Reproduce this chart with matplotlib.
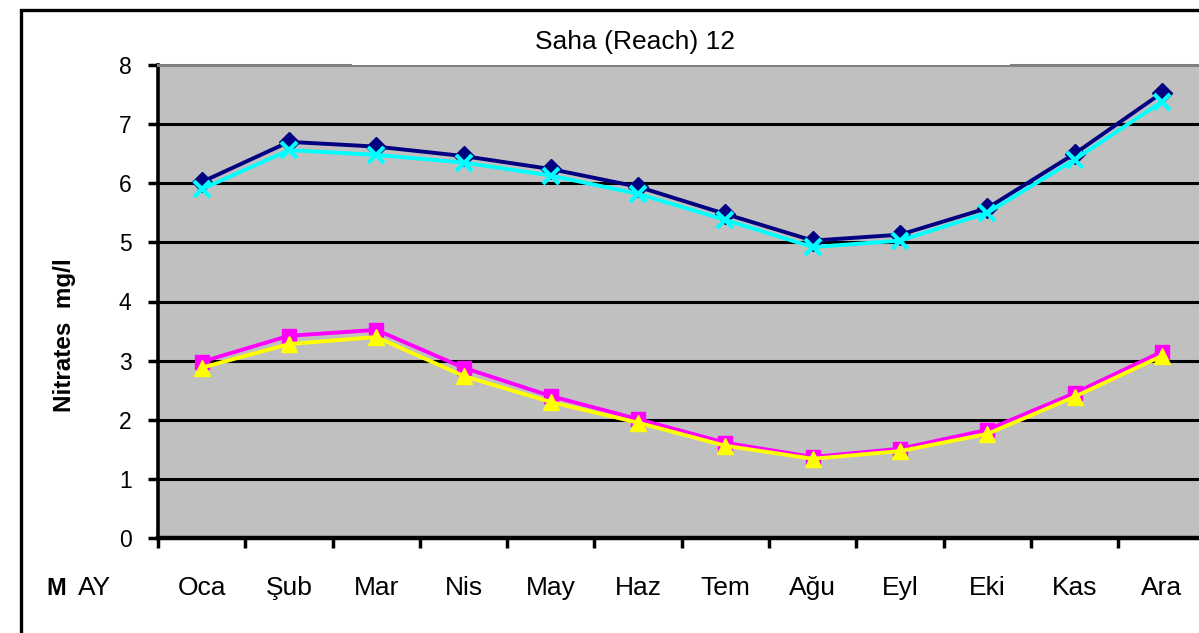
import numpy as np
import matplotlib
matplotlib.use("Agg")
import matplotlib.pyplot as plt
from matplotlib.patches import Rectangle

plt.rcParams["font.family"] = ["Liberation Sans", "DejaVu Sans"]

# ---- data ----
months = ["Oca", "Şub", "Mar", "Nis", "May", "Haz",
          "Tem", "Ağu", "Eyl", "Eki", "Kas", "Ara"]
s_navy    = [6.02, 6.70, 6.62, 6.46, 6.24, 5.94, 5.48, 5.03, 5.13, 5.58, 6.50, 7.53]
s_cyan    = [5.90, 6.56, 6.48, 6.35, 6.13, 5.82, 5.38, 4.92, 5.03, 5.50, 6.40, 7.38]
s_magenta = [2.98, 3.42, 3.52, 2.88, 2.40, 2.01, 1.61, 1.37, 1.51, 1.83, 2.45, 3.15]
s_yellow  = [2.88, 3.28, 3.40, 2.74, 2.30, 1.95, 1.56, 1.34, 1.47, 1.76, 2.39, 3.08]

W, H = 1199, 633
fig = plt.figure(figsize=(W / 100, H / 100), dpi=100)

# outer chart border (runs off the right/bottom of the image)
fig.patches.append(Rectangle((21 / W, -0.05), 1.1, 1 - 10 / H + 0.05,
                             transform=fig.transFigure, fill=False,
                             edgecolor="black", lw=2.4, zorder=0))

left, bottom, top = 158, 538, 65
step = 87.3
right = left + step * 12
ax = fig.add_axes([left / W, 1 - bottom / H, (right - left) / W, (bottom - top) / H])
ax.set_facecolor("#c0c0c0")

x = np.arange(len(months)) + 0.5
ax.plot(x, s_navy, color="#000080", lw=2.8, marker="D", ms=10, zorder=3)
ax.plot(x, s_cyan, color="#00ffff", lw=2.8, marker="x", ms=12, mew=3, zorder=4)
ax.plot(x, s_magenta, color="#ff00ff", lw=2.8, marker="s", ms=9.5, zorder=3)
ax.plot(x, s_yellow, color="#ffff00", lw=2.8, marker="^", ms=11, zorder=4)

ax.set_xlim(0, 12)
ax.set_ylim(0, 8)
ax.set_yticks(range(0, 9))
ax.set_yticklabels([str(v) for v in range(0, 9)], fontsize=16.5)
for v in range(1, 8):
    ax.axhline(v, color="black", lw=2.2, zorder=1)

# tick marks sit on the category boundaries, labels in the middle
ax.set_xticks(range(0, 13))
ax.set_xticklabels([])
ax.tick_params(axis="x", which="major", length=7, width=2.5, direction="out")
ax.tick_params(axis="y", length=7, width=2.5, direction="out", pad=12)
lab_y = (bottom - 595) / (bottom - top)
for xi, m in zip(x, months):
    ax.text(xi, lab_y, m, transform=ax.get_xaxis_transform(), ha="center",
            va="baseline", fontsize=19, clip_on=False)

for sp in ["left", "bottom"]:
    ax.spines[sp].set_color("black")
ax.spines["left"].set_linewidth(2.6)
ax.spines["bottom"].set_linewidth(3.2)
ax.spines["top"].set_color("#808080")
ax.spines["top"].set_linewidth(2.2)
ax.spines["right"].set_visible(False)

fig.text(65 / W, 1 - 335 / H, "Nitrates  mg/l", rotation=90, ha="center",
         va="center", fontsize=17.5, fontweight="bold", zorder=3)

# title area partly covering the top edge
fig.patches.append(Rectangle((352 / W, 1 - 64.5 / H), (1010 - 352) / W, 20 / H,
                             transform=fig.transFigure, facecolor="white",
                             edgecolor="none", zorder=1))
fig.text(635 / W, 1 - 49 / H, "Saha (Reach) 12", ha="center", va="baseline",
         fontsize=19, zorder=3)

fig.text(56 / W, 1 - 595 / H, "M", ha="center", va="baseline", fontsize=17,
         fontweight="bold", zorder=3)
fig.text(95 / W, 1 - 595 / H, "AY", ha="center", va="baseline", fontsize=19,
         zorder=3)

fig.savefig("out.png", dpi=100)
